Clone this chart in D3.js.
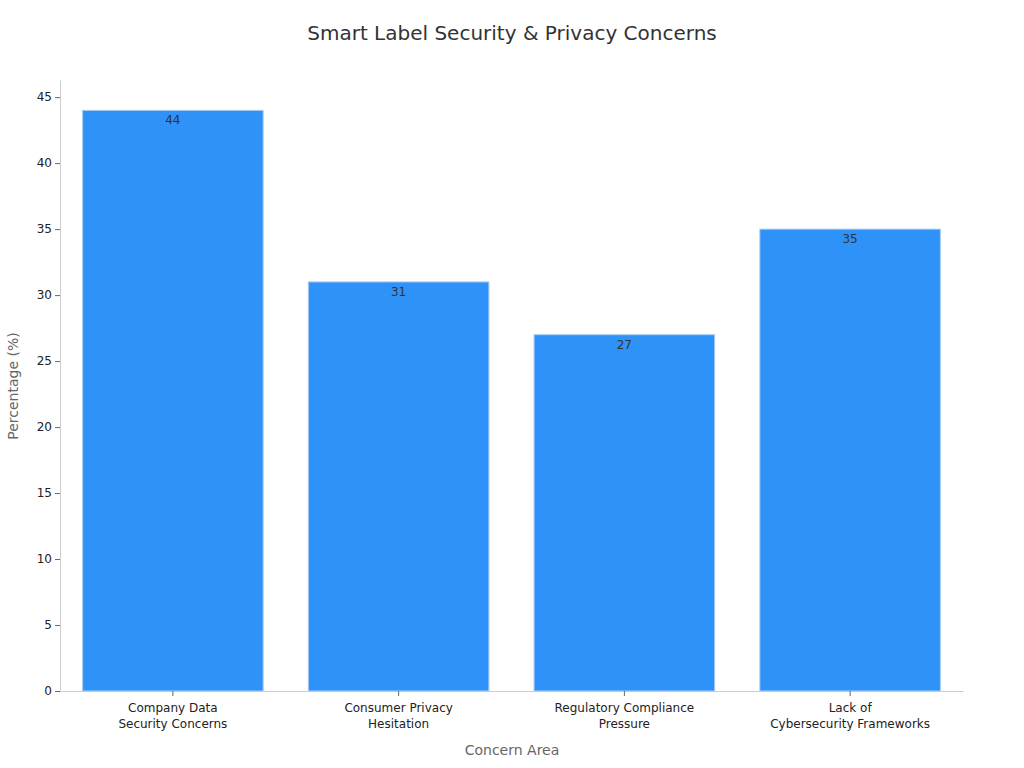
<!DOCTYPE html>
<html><head><meta charset="utf-8">
<script src="https://cdn.jsdelivr.net/npm/d3@7"></script>
<style>body{margin:0;background:#fff;font-family:"DejaVu Sans",sans-serif}</style>
</head><body><svg id="c" width="1024" height="768"></svg>
<script>
const categories=[["Company Data","Security Concerns"],["Consumer Privacy","Hesitation"],["Regulatory Compliance","Pressure"],["Lack of","Cybersecurity Frameworks"]];
const values=[44,31,27,35];
const yTicks=[0,5,10,15,20,25,30,35,40,45];
const svg=d3.select("#c");
const m={l:60,r:963,t:80,b:691};
const x=d3.scaleBand().domain(d3.range(4)).range([m.l,m.r]).paddingInner(0.2).paddingOuter(0.1);
const y=d3.scaleLinear().domain([0,46.3]).range([m.b,m.t]);
svg.append("text").attr("x",512).attr("y",40).attr("text-anchor","middle").attr("font-size",20).attr("fill","#333").text("Smart Label Security & Privacy Concerns");
svg.selectAll("rect.b").data(values).join("rect").attr("x",(d,i)=>x(i)).attr("width",x.bandwidth()).attr("y",d=>y(d)).attr("height",d=>y(0)-y(d)).attr("fill","#2f92f8").attr("stroke","#a9cdf5").attr("stroke-width",1);
svg.selectAll("text.v").data(values).join("text").attr("x",(d,i)=>x(i)+x.bandwidth()/2).attr("y",d=>y(d)+14).attr("text-anchor","middle").attr("font-size",12).attr("fill","#333").text(d=>d);
const ya=svg.append("g").attr("transform",`translate(${m.l},0)`).call(d3.axisLeft(y).tickValues(yTicks).tickSize(5).tickSizeOuter(0));
ya.select(".domain").attr("stroke","#ccc");ya.selectAll("line").attr("stroke","#666");ya.selectAll("text").attr("font-size",12).attr("fill","#222").attr("font-family","DejaVu Sans");
const xa=svg.append("g").attr("transform",`translate(0,${m.b})`).call(d3.axisBottom(x).tickSize(5).tickSizeOuter(0).tickFormat(""));
xa.select(".domain").attr("stroke","#ccc");xa.selectAll("line").attr("stroke","#666");
categories.forEach((c,i)=>{const t=svg.append("text").attr("x",x(i)+x.bandwidth()/2).attr("y",712).attr("text-anchor","middle").attr("font-size",12).attr("fill","#222");
c.forEach((l,j)=>t.append("tspan").attr("x",x(i)+x.bandwidth()/2).attr("dy",j?16:0).text(l));});
svg.append("text").attr("x",512).attr("y",755).attr("text-anchor","middle").attr("font-size",14).attr("fill","#666").text("Concern Area");
svg.append("text").attr("transform","translate(18,386) rotate(-90)").attr("text-anchor","middle").attr("font-size",14).attr("fill","#666").text("Percentage (%)");
</script></body></html>
